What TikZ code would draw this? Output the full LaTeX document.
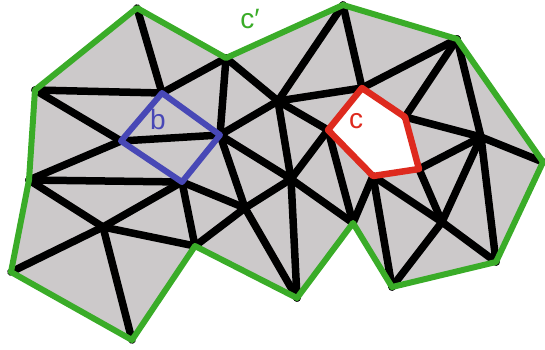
\documentclass[tikz,border=0pt]{standalone}
\usepackage{fontspec}
\setmainfont{Liberation Sans}
\definecolor{meshgray}{RGB}{204,201,202}
\definecolor{rimgreen}{RGB}{58,172,40}
\definecolor{cellblue}{RGB}{72,72,182}
\definecolor{cellred}{RGB}{222,42,30}

\begin{document}
\begin{tikzpicture}[x=1pt,y=-1pt,
    edge/.style={line width=7.5pt,black,line cap=round},
    rim/.style={line width=6pt,rimgreen,line join=round},
    bcell/.style={line width=6pt,cellblue,line join=round},
    rcell/.style={line width=6.5pt,cellred,line join=round},
    lab/.style={font=\fontsize{28}{28}\selectfont,inner sep=0pt}]
            \useasboundingbox (0,0) rectangle (545,349);
            \coordinate (P1) at (137,8);
            \coordinate (P2) at (226,58);
            \coordinate (P3) at (343,5);
            \coordinate (P4) at (457,39);
            \coordinate (P5) at (543,162);
            \coordinate (P6) at (496,262);
            \coordinate (P7) at (392,287);
            \coordinate (P8) at (353,223);
            \coordinate (P9) at (297,298);
            \coordinate (P10) at (195,246);
            \coordinate (P11) at (132,340);
            \coordinate (P12) at (11,272);
            \coordinate (P13) at (29,180);
            \coordinate (P14) at (35,90);
            \coordinate (A) at (162,93);
            \coordinate (B) at (220,135);
            \coordinate (C) at (121,141);
            \coordinate (D) at (182,182);
            \coordinate (E) at (278,101);
            \coordinate (F) at (362,88);
            \coordinate (G) at (328,130);
            \coordinate (H) at (291,179);
            \coordinate (I) at (245,208);
            \coordinate (K) at (373,176);
            \coordinate (L) at (405,117);
            \coordinate (M) at (419,169);
            \coordinate (N) at (481,137);
            \coordinate (O) at (442,222);
            \coordinate (Q) at (103,227);

            \fill[meshgray] (P1)--(P2)--(P3)--(P4)--(P5)--(P6)--(P7)--(P8)--(P9)
              --(P10)--(P11)--(P12)--(P13)--(P14)--cycle;
            \fill[white] (F)--(L)--(M)--(K)--(G)--cycle;

            \draw[edge] (P1)--(A);
            \draw[edge] (P14)--(A);
            \draw[edge] (P14)--(C);
            \draw[edge] (A)--(P2);
            \draw[edge] (P2)--(B);
            \draw[edge] (C)--(B);
            \draw[edge] (C)--(P13);
            \draw[edge] (B)--(E);
            \draw[edge] (P2)--(E);
            \draw[edge] (E)--(P3);
            \draw[edge] (E)--(F);
            \draw[edge] (P3)--(F);
            \draw[edge] (F)--(P4);
            \draw[edge] (E)--(G);
            \draw[edge] (E)--(H);
            \draw[edge] (B)--(H);
            \draw[edge] (G)--(H);
            \draw[edge] (B)--(I);
            \draw[edge] (I)--(P9);
            \draw[edge] (D)--(I);
            \draw[edge] (I)--(H);
            \draw[edge] (I)--(P10);
            \draw[edge] (D)--(P10);
            \draw[edge] (H)--(P9);
            \draw[edge] (H)--(P8);
            \draw[edge] (G)--(P8);
            \draw[edge] (P8)--(K);
            \draw[edge] (L)--(P4);
            \draw[edge] (L)--(N);
            \draw[edge] (P4)--(N);
            \draw[edge] (N)--(P5);
            \draw[edge] (M)--(N);
            \draw[edge] (N)--(O);
            \draw[edge] (O)--(P7);
            \draw[edge] (N)--(P6);
            \draw[edge] (M)--(O);
            \draw[edge] (O)--(P6);
            \draw[edge] (K)--(O);
            \draw[edge] (K)--(P7);
            \draw[edge] (P13)--(D);
            \draw[edge] (P13)--(Q);
            \draw[edge] (D)--(Q);
            \draw[edge] (Q)--(P12);
            \draw[edge] (Q)--(P11);
            \draw[edge] (Q)--(P10);

            \draw[rim] (P1)--(P2)--(P3)--(P4)--(P5)--(P6)--(P7)--(P8)--(P9)
              --(P10)--(P11)--(P12)--(P13)--(P14)--cycle;
            \draw[bcell] (A)--(B)--(D)--(C)--cycle;
            \draw[rcell] (F)--(L)--(M)--(K)--(G)--cycle;

            \node[lab,text=cellblue] (bl) at (158,119) {b};
            \node[lab,text=cellred] (cl) at (356,121) {c};
            \node[lab,text=rimgreen] (cpl) at (250,19) {c′};
\end{tikzpicture}
\end{document}
